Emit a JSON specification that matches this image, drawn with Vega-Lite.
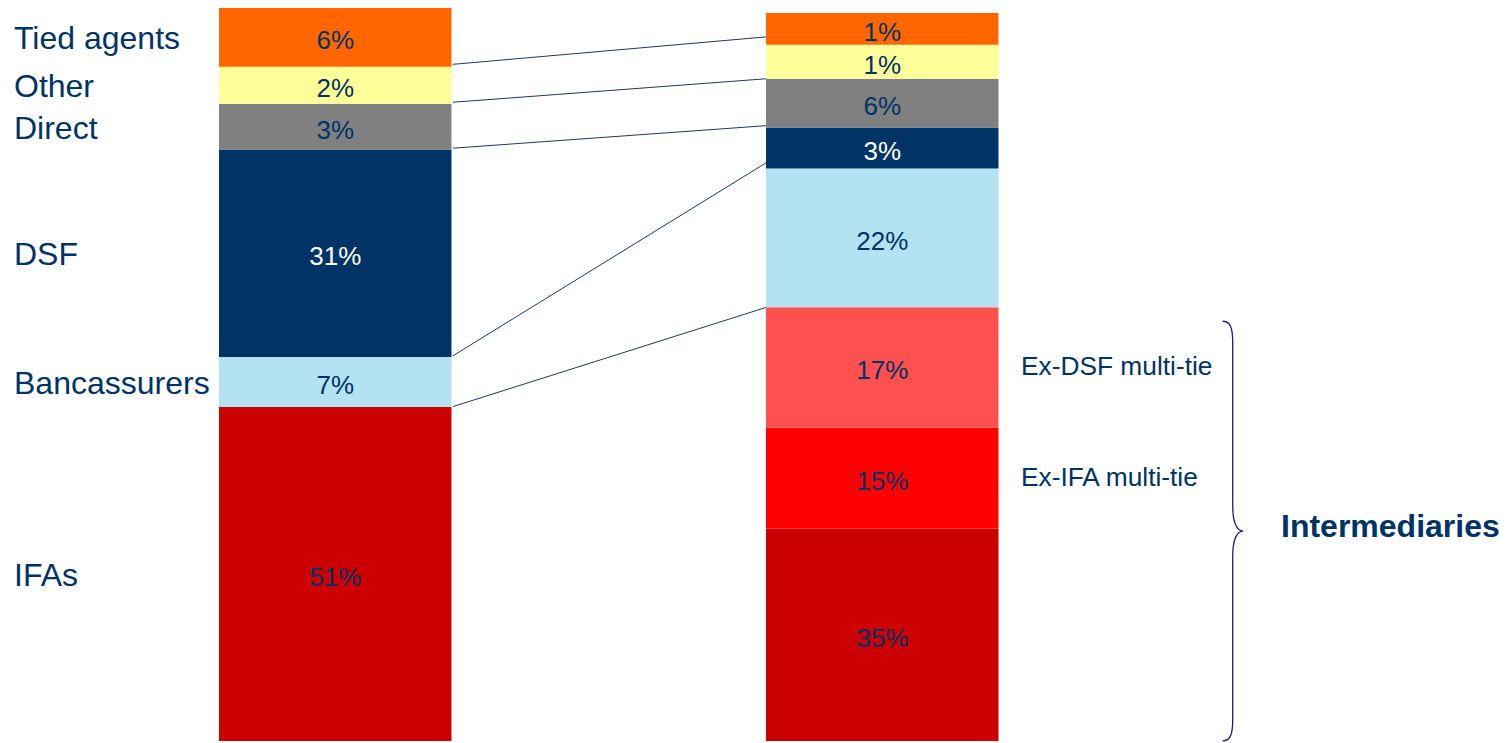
{
  "$schema": "https://vega.github.io/schema/vega-lite/v6.json",
  "width": 1510,
  "height": 743,
  "autosize": {"type": "fit", "contains": "padding"},
  "padding": 0,
  "background": "white",
  "config": {"view": {"stroke": null}, "font": "Liberation Sans"},
  "datasets": {
    "segments": [
      {"stage": "Before", "channel": "IFAs", "value": 45.09, "label": "51%"},
      {"stage": "Before", "channel": "Bancassurers", "value": 6.73, "label": "7%"},
      {"stage": "Before", "channel": "DSF", "value": 27.99, "label": "31%"},
      {"stage": "Before", "channel": "Direct", "value": 6.19, "label": "3%"},
      {"stage": "Before", "channel": "Other", "value": 4.98, "label": "2%"},
      {"stage": "Before", "channel": "Tied agents", "value": 7.94, "label": "6%"},
      {"stage": "After", "channel": "IFAs", "value": 28.67, "label": "35%"},
      {"stage": "After", "channel": "Ex-IFA multi-tie", "value": 13.59, "label": "15%"},
      {"stage": "After", "channel": "Ex-DSF multi-tie", "value": 16.29, "label": "17%"},
      {"stage": "After", "channel": "Bancassurers", "value": 18.71, "label": "22%"},
      {"stage": "After", "channel": "DSF", "value": 5.52, "label": "3%"},
      {"stage": "After", "channel": "Direct", "value": 6.59, "label": "6%"},
      {"stage": "After", "channel": "Other", "value": 4.58, "label": "1%"},
      {"stage": "After", "channel": "Tied agents", "value": 4.31, "label": "1%"}
    ],
    "connectors": [
      {"from": 91.32, "to": 95.02},
      {"from": 86.2, "to": 89.37},
      {"from": 80.0, "to": 83.04},
      {"from": 51.99, "to": 78.02},
      {"from": 45.13, "to": 58.51}
    ]
  },
  "layer": [
    {
      "data": {"name": "segments"},
      "transform": [
        {"window": [{"op": "row_number", "as": "idx"}]},
        {"stack": "value", "groupby": ["stage"], "sort": [{"field": "idx", "order": "ascending"}], "as": ["y0", "y1"]}
      ],
      "mark": {"type": "bar"},
      "encoding": {
        "x": {"field": "stage", "type": "nominal", "axis": null,
              "scale": {"domain": ["Before", "After"], "range": [219, 998.5], "paddingInner": 0.575, "paddingOuter": 0}},
        "y": {"field": "y0", "type": "quantitative", "axis": null, "scale": {"domain": [0, 100], "nice": false, "zero": true}},
        "y2": {"field": "y1"},
        "color": {"field": "channel", "type": "nominal", "legend": null,
                  "scale": {"domain": ["Tied agents", "Other", "Direct", "DSF", "Bancassurers", "Ex-DSF multi-tie", "Ex-IFA multi-tie", "IFAs"],
                            "range": ["#FF6600", "#FFFF99", "#808080", "#003366", "#B3E3F2", "#FF5050", "#FF0000", "#CC0000"]}}
      }
    },
    {
      "data": {"name": "segments"},
      "transform": [
        {"window": [{"op": "row_number", "as": "idx"}]},
        {"stack": "value", "groupby": ["stage"], "sort": [{"field": "idx", "order": "ascending"}], "as": ["y0", "y1"]},
        {"fold": ["y0", "y1"], "as": ["k", "pos"]}
      ],
      "mark": {"type": "text", "fontSize": 26, "baseline": "middle", "align": "center", "dy": 4, "font": "Liberation Sans"},
      "encoding": {
        "x": {"field": "stage", "type": "nominal"},
        "y": {"aggregate": "mean", "field": "pos", "type": "quantitative"},
        "text": {"field": "label", "type": "nominal"},
        "detail": {"field": "channel", "type": "nominal"},
        "fill": {"condition": {"test": "datum.channel === 'DSF'", "value": "white"}, "value": "#003366"}
      }
    },
    {
      "data": {"name": "segments"},
      "transform": [
        {"window": [{"op": "row_number", "as": "idx"}]},
        {"stack": "value", "groupby": ["stage"], "sort": [{"field": "idx", "order": "ascending"}], "as": ["y0", "y1"]},
        {"filter": "datum.stage === 'Before'"},
        {"fold": ["y0", "y1"], "as": ["k", "pos"]}
      ],
      "mark": {"type": "text", "fontSize": 32, "baseline": "middle", "align": "left", "dx": -321.25, "dy": 2, "color": "#003366", "font": "Liberation Sans"},
      "encoding": {
        "x": {"field": "stage", "type": "nominal"},
        "y": {"aggregate": "mean", "field": "pos", "type": "quantitative"},
        "text": {"field": "channel", "type": "nominal"}
      }
    },
    {
      "data": {"name": "segments"},
      "transform": [
        {"window": [{"op": "row_number", "as": "idx"}]},
        {"stack": "value", "groupby": ["stage"], "sort": [{"field": "idx", "order": "ascending"}], "as": ["y0", "y1"]},
        {"filter": "datum.stage === 'After' && (datum.channel === 'Ex-DSF multi-tie' || datum.channel === 'Ex-IFA multi-tie')"},
        {"fold": ["y0", "y1"], "as": ["k", "pos"]}
      ],
      "mark": {"type": "text", "fontSize": 26.3, "baseline": "middle", "align": "left", "dx": 138.75, "color": "#003366", "font": "Liberation Sans"},
      "encoding": {
        "x": {"field": "stage", "type": "nominal"},
        "y": {"aggregate": "mean", "field": "pos", "type": "quantitative"},
        "text": {"field": "channel", "type": "nominal"}
      }
    },
    {
      "data": {"name": "connectors"},
      "mark": {"type": "rule", "color": "#1F3864", "strokeWidth": 1, "xOffset": 117.75, "x2Offset": -116.25},
      "encoding": {
        "x": {"datum": "Before"},
        "x2": {"datum": "After"},
        "y": {"field": "from", "type": "quantitative"},
        "y2": {"field": "to"}
      }
    },
    {
      "data": {"values": [{"group": "Intermediaries"}]},
      "mark": {"type": "point", "filled": false, "color": "#1E1E7A", "strokeWidth": 1.3, "opacity": 1,
               "size": 176064, "xOffset": 350.45,
               "shape": "M -0.048 -1 C -0.012 -1 0 -0.97 0 -0.9 L 0 -0.12 C 0 -0.04 0.02 0 0.05 0 C 0.02 0 0 0.04 0 0.12 L 0 0.9 C 0 0.97 -0.012 1 -0.048 1"},
      "encoding": {
        "x": {"datum": "After"},
        "y": {"datum": 28.33}
      }
    },
    {
      "data": {"values": [{"group": "Intermediaries"}]},
      "mark": {"type": "text", "fontSize": 32, "fontWeight": "bold", "baseline": "middle", "align": "left", "dx": 398.75, "dy": 2, "color": "#003366", "font": "Liberation Sans"},
      "encoding": {
        "x": {"datum": "After"},
        "y": {"datum": 29.2},
        "text": {"field": "group", "type": "nominal"}
      }
    }
  ]
}
